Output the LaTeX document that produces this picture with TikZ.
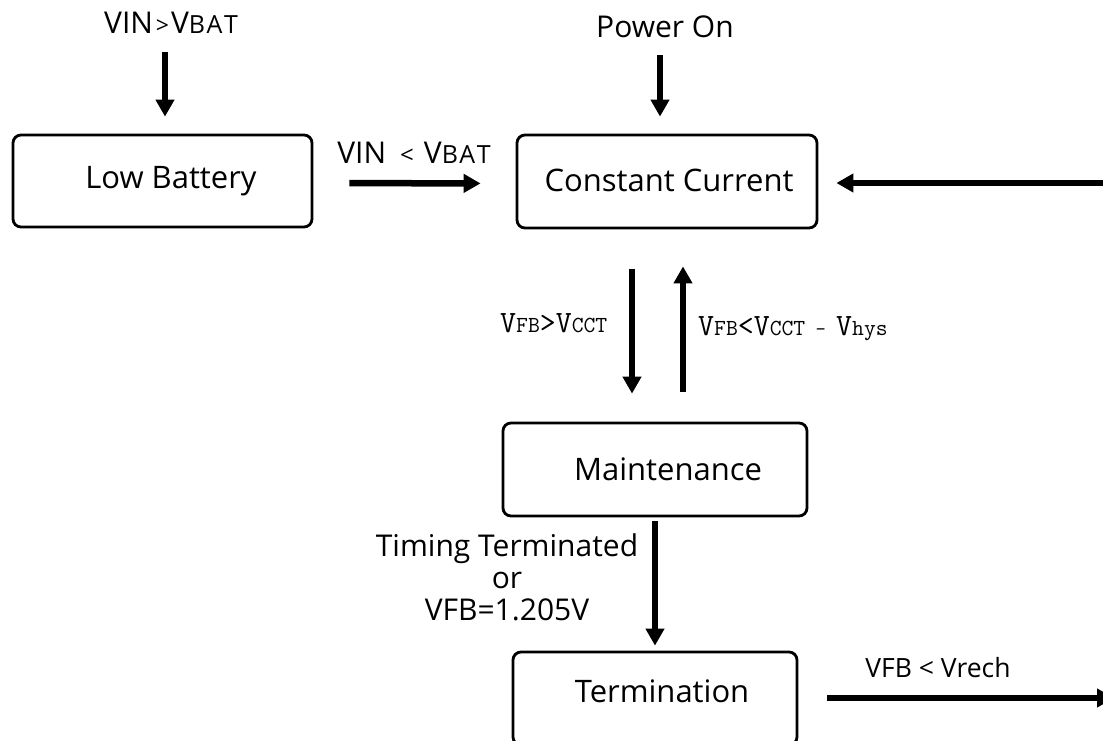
\documentclass[tikz,border=0pt]{standalone}
\usepackage{fontspec}
\setmainfont{Open Sans}
\usetikzlibrary{arrows.meta}

\newcommand\subsz{\fontsize{23}{26}\selectfont}
\newcommand\relsz{\fontsize{20}{24}\selectfont}
\newcommand\capsz{\fontsize{25}{28}\selectfont}

\begin{document}
\begin{tikzpicture}[x=1pt,y=-1pt,
  stateBox/.style={draw, line width=2.8pt, rounded corners=8pt, inner sep=0pt},
  stateText/.style={anchor=base, inner sep=0pt, font=\fontsize{31}{36}\selectfont},
  edgeText/.style={anchor=base, inner sep=0pt, font=\fontsize{30}{33}\selectfont},
  monoText/.style={anchor=base west, inner sep=0pt,
    font=\ttfamily\addfontfeature{FakeBold=1}\fontsize{31}{34}\selectfont},
  flow/.style={line width=6.5pt, -{Triangle[length=17pt,width=18pt]}},
]

\useasboundingbox (0,0) rectangle (1103,740);
\clip (0,0) rectangle (1103,740);

% state boxes
\node[stateBox, minimum width=299pt, minimum height=92pt] (lowbat) at (162.5,181) {};
\node[stateBox, minimum width=300pt, minimum height=93pt] (cc) at (667,181.5) {};
\node[stateBox, minimum width=304pt, minimum height=93pt] (maint) at (655,469.5) {};
\node[stateBox, minimum width=284pt, minimum height=93pt] (term) at (655,698.5) {};

% state names
\node[stateText] (lowbatText) at (171,188) {Low Battery};
\node[stateText] (ccText) at (669,191) {Constant Current};
\node[stateText] (maintText) at (668,480) {Maintenance};
\node[stateText] (termText) at (662,702) {Termination};

% transition conditions
\node[edgeText] (vinHigh) at (171,33) {VIN\hspace{3pt}{\fontsize{23}{26}\selectfont>}\hspace{2pt}V{\capsz B\kern1.5pt A\kern1.5pt T}};
\node[edgeText] (powerOn) at (665,37) {Power On};
\node[edgeText] (vinLow) at (414,163) {VIN\hspace{14pt}{\fontsize{24}{26}\selectfont<}\hspace{10pt}V{\capsz B\kern1.5pt A\kern1.5pt T}};
\node[monoText] (cvEnter) at (500,332) {V{\subsz FB}>V{\subsz CCT}};
\node[monoText] (cvLeave) at (698,335) {V{\subsz FB}<V{\subsz CCT}{\relsz{} - }V{\subsz hys}};
\node[edgeText, align=center, anchor=center, font=\fontsize{30}{32}\selectfont] (doneText) at (507,577) {Timing Terminated\\or\\VFB=1.205V};
\node[edgeText, font=\fontsize{26.5}{30}\selectfont] (rechText) at (938,677) {VFB < Vrech};

% off-page ends of the recharge loop
\coordinate (loopIn) at (1115,183);
\coordinate (loopOut) at (1114,698);

% transitions
\draw[flow, shorten <=19pt, shorten >=17pt] ([xshift=2.5pt]vinHigh.base -| lowbat.north) -- ([xshift=2.5pt]lowbat.north);
\draw[flow, shorten <=18pt, shorten >=17pt] ([xshift=-7pt]powerOn.base -| cc.north) -- ([xshift=-7pt]cc.north);
\draw[flow, shorten <=36pt, shorten >=35pt] ([yshift=-2pt]lowbat.east) -- ([yshift=-2pt]cc.west);
\draw[flow, shorten >=18pt] (loopIn) -- (loopIn -| cc.east);
\draw[flow, shorten <=40pt, shorten >=28pt] ([xshift=-35pt]cc.south) -- ([xshift=-35pt]cc.south |- maint.north);
\draw[flow, shorten <=30pt, shorten >=37pt] ([xshift=16pt]cc.south |- maint.north) -- ([xshift=16pt]cc.south);
\draw[flow, shorten <=4pt, shorten >=5pt] (maint.south) -- (term.north);
\draw[flow, shorten <=29pt] (loopOut -| term.east) -- (loopOut);
\end{tikzpicture}
\end{document}
